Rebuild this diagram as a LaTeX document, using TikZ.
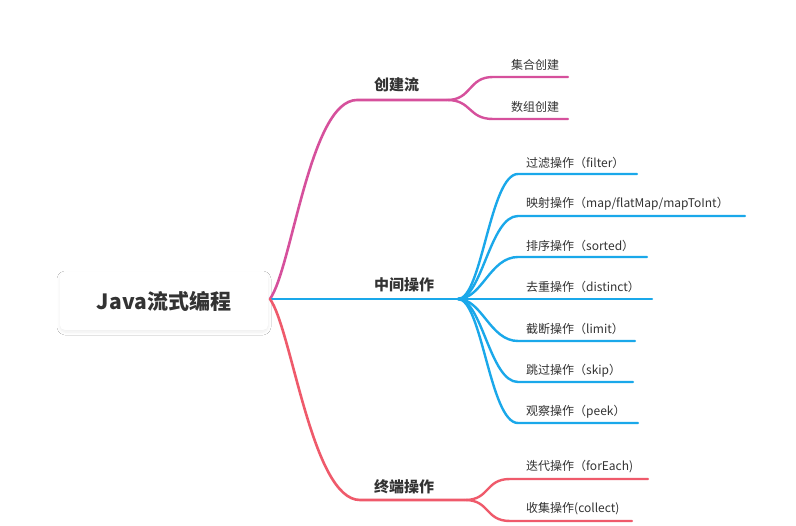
\documentclass[tikz,border=0pt]{standalone}
\usepackage{fontspec}
\setmainfont{Noto Sans CJK SC}
\usetikzlibrary{shadows.blur}
\definecolor{pinkc}{HTML}{D6509C}
\definecolor{bluec}{HTML}{1AA8EA}
\definecolor{redc}{HTML}{EF5A6B}
\definecolor{txt}{HTML}{333333}
\begin{document}
\begin{tikzpicture}[x=1pt,y=-1pt,
  rootbox/.style={draw=none,fill=white,rounded corners=5pt,minimum width=208pt,minimum height=58pt,
    blur shadow={shadow blur steps=8,shadow blur radius=3pt,shadow xshift=0pt,shadow yshift=-2pt,shadow opacity=7},
    text=txt,font=\fontsize{21}{25}\selectfont\bfseries},
  lvlone/.style={anchor=west,inner sep=0pt,text=txt,font=\fontsize{15}{18}\selectfont\bfseries},
  leaf/.style={anchor=west,inner sep=0pt,text=txt,font=\fontsize{12}{14}\selectfont},
  mainline/.style={line width=2.6pt,line cap=round},
  subline/.style={line width=2.4pt,line cap=round}]
\useasboundingbox (0,0) rectangle (796,526);
\fill[white] (0,0) rectangle (796,526);
\node[rootbox] (root) at (164,301) {Java流式编程};
\coordinate (r) at (270,299);
% labels
\node[lvlone] (c1) at (374,85) {创建流};
\node[lvlone] (c2) at (374,285) {中间操作};
\node[lvlone] (c3) at (374,487) {终端操作};
\node[leaf] (p1) at (511,65) {集合创建};
\node[leaf] (p2) at (511,107) {数组创建};
\node[leaf] (b1) at (526,163) {过滤操作（filter）};
\node[leaf] (b2) at (526,204) {映射操作（map/flatMap/mapToInt）};
\node[leaf] (b3) at (526,246) {排序操作（sorted）};
\node[leaf] (b4) at (526,287) {去重操作（distinct）};
\node[leaf] (b5) at (526,329) {截断操作（limit）};
\node[leaf] (b6) at (526,371) {跳过操作（skip）};
\node[leaf] (b7) at (526,412) {观察操作（peek）};
\node[leaf] (t1) at (526,467) {迭代操作（forEach)};
\node[leaf] (t2) at (526,509) {收集操作(collect)};
% fork points and ends
\coordinate (pf) at (447,100);
\coordinate (bf) at (458,299);
\coordinate (tf) at (465,500);
\coordinate (p1e) at (568,77);
\coordinate (p2e) at (568,119);
\coordinate (b1e) at (637,174);
\coordinate (b2e) at (745,216);
\coordinate (b3e) at (647,257);
\coordinate (b4e) at (652,299);
\coordinate (b5e) at (635,341);
\coordinate (b6e) at (633,382);
\coordinate (b7e) at (638,423);
\coordinate (t1e) at (648,479);
\coordinate (t2e) at (632,521);
% pink
\draw[mainline,pinkc] (r) .. controls (292,268) and (310,100) .. (357,100) -- (pf);
\draw[subline,pinkc] (pf) .. controls (472,100) and (468,77) .. (493,77) -- (p1e);
\draw[subline,pinkc] (pf) .. controls (472,100) and (468,119) .. (493,119) -- (p2e);
% blue
\draw[mainline,bluec] (r) -- (bf);
\foreach \e/\y in {b1e/174,b2e/216,b3e/257,b5e/341,b6e/382,b7e/423}{
  \draw[subline,bluec] (bf) .. controls (482,299) and (490,\y) .. (518,\y) -- (\e);
}
\draw[subline,bluec] (bf) -- (b4e);
% red
\draw[mainline,redc] (r) .. controls (292,330) and (312,500) .. (360,500) -- (tf);
\draw[subline,redc] (tf) .. controls (490,500) and (485,479) .. (510,479) -- (t1e);
\draw[subline,redc] (tf) .. controls (490,500) and (485,521) .. (510,521) -- (t2e);
\end{tikzpicture}
\end{document}
